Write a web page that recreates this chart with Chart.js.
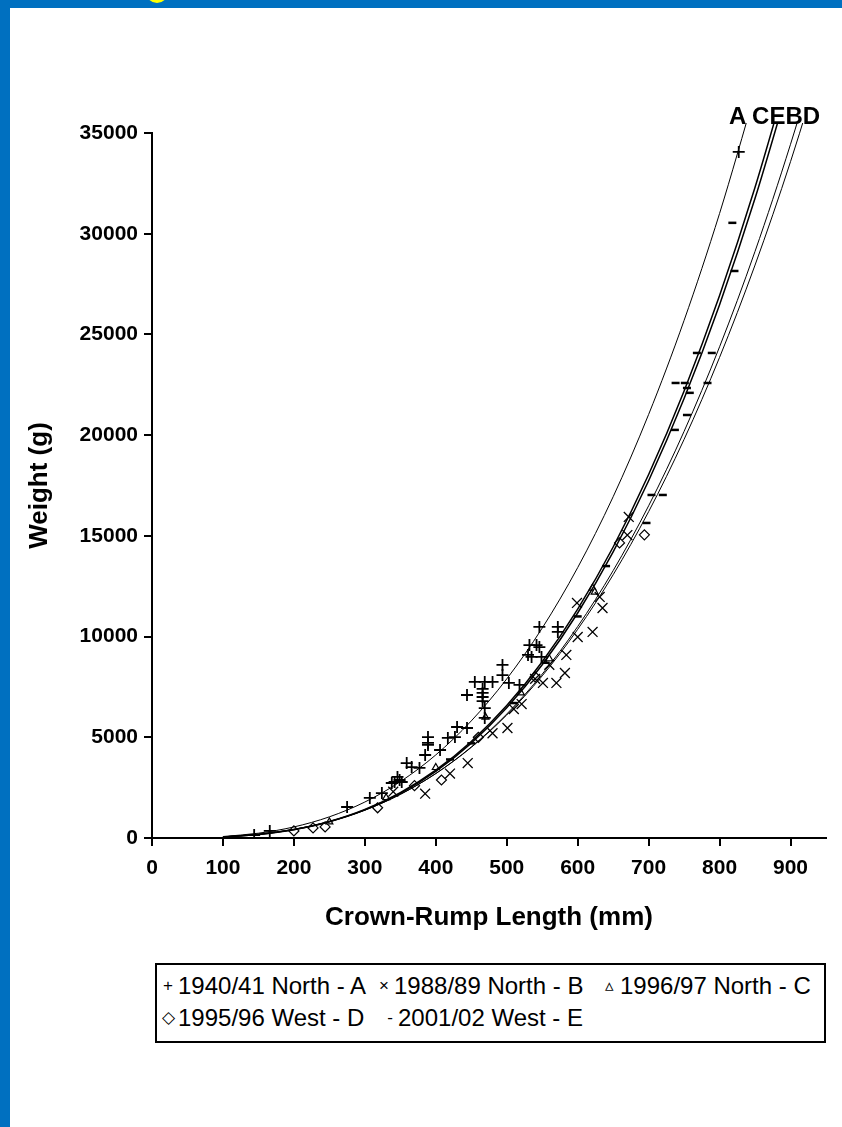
<!DOCTYPE html>
<html>
<head>
<meta charset="utf-8">
<script src="https://cdn.jsdelivr.net/npm/chart.js@4.4.0/dist/chart.umd.min.js"></script>
<style>
  body { margin: 0; width: 842px; height: 1127px; overflow: hidden; position: relative; background: #0070c0; font-family: 'Liberation Sans', Arial, sans-serif; }
  #panel { position: absolute; left: 10px; top: 8px; right: 0; bottom: 0; background: #fff; }
  #sun { position: absolute; left: 146px; top: -19px; width: 22px; height: 22px; border-radius: 50%; background: #ffff00; }
  #chart { position: absolute; left: 0; top: 0; }
  #curveLabel { position: absolute; left: 729px; top: 104px; font-weight: bold; font-size: 24px; line-height: 24px; white-space: nowrap; }
  #legend { position: absolute; left: 155px; top: 963px; width: 667px; height: 76px; border: 2px solid #000; background: #fff; }
  .sym { position: absolute; font-size: 17px; line-height: 28px; transform: translateX(-50%); }
  .txt { position: absolute; font-size: 24px; line-height: 28px; white-space: nowrap; }
</style>
</head>
<body>
<div id="panel"></div>
<div id="sun"></div>
<canvas id="chart" width="842" height="1127"></canvas>
<div id="curveLabel">A CEBD</div>
<div id="legend"></div>
<script>
// ejes
const xTicks = [0, 100, 200, 300, 400, 500, 600, 700, 800, 900];
const yTicks = [0, 5000, 10000, 15000, 20000, 25000, 30000, 35000];

// series (leyenda)
const seriesNames = ['1940/41 North - A', '1988/89 North - B', '1996/97 North - C', '1995/96 West - D', '2001/02 West - E'];
const legendSymbols = ['+', '\u00d7', '\u25b5', '\u25c7', '-'];

// puntos medidos: longitud (mm) y peso (g)
const aLen = [144, 166, 275, 307, 324, 338, 342, 346, 349, 352, 359, 366, 377, 385, 389, 389, 389, 406, 417, 427, 430, 444, 444, 455, 466, 466, 466, 466, 469, 469, 469, 480, 494, 494, 503, 518, 530, 532, 535, 542, 546, 546, 549, 572, 572, 827];
const aWt  = [150, 350, 1540, 1990, 2230, 2730, 2780, 3030, 2880, 2780, 3720, 3520, 3480, 4120, 4720, 5010, 4620, 4370, 4970, 5010, 5510, 5460, 7100, 7750, 7400, 7200, 7000, 6800, 7750, 6450, 5960, 7750, 8590, 8090, 7700, 7600, 9090, 9580, 8990, 9580, 10480, 9480, 8990, 10480, 10230, 34060];

const bLen = [340, 385, 420, 445, 480, 501, 510, 521, 540, 551, 560, 570, 582, 584, 599, 600, 621, 631, 635, 670, 672];
const bWt  = [2300, 2200, 3200, 3720, 5200, 5460, 6400, 6650, 7900, 7700, 8600, 7700, 8190, 9090, 11670, 9980, 10230, 11970, 11420, 15040, 15940];

const cLen = [250, 330, 400, 470, 520, 560, 621, 624];
const cWt  = [800, 2000, 3500, 6000, 7200, 8900, 12410, 12210];

const dLen = [200, 227, 244, 318, 370, 408, 460, 540, 659, 694];
const dWt  = [350, 500, 550, 1500, 2600, 2880, 5000, 8000, 14650, 15050];

const eLen = [420, 450, 510, 555, 600, 640, 697, 704, 720, 737, 738, 751, 754, 754, 758, 768, 783, 789, 818, 821];
const eWt  = [3900, 4700, 6700, 8700, 11000, 13500, 15640, 17030, 17030, 20260, 22590, 22590, 22340, 21000, 22100, 24080, 22590, 24080, 30540, 28150];

// curvas ajustadas
const curveLen = [100, 150, 200, 250, 300, 350, 400, 450, 500, 550, 600, 650, 700, 750, 800, 850, 900, 950];
const curveA = [73, 238, 549, 1051, 1786, 2797, 4125, 5812, 7898, 10422, 13424, 16943, 21028, 25697, 31008, 36993];
const curveB = [55, 181, 420, 807, 1378, 2164, 3201, 4519, 6154, 8136, 10498, 13275, 16493, 20188, 24387, 29127, 34441, 40351];
const curveC = [53, 178, 421, 822, 1420, 2255, 3367, 4794, 6575, 8752, 11363, 14447, 18043, 22193, 26934, 32305, 38348];
const curveD = [57, 186, 429, 818, 1388, 2170, 3197, 4498, 6106, 8050, 10360, 13069, 16202, 19791, 23862, 28445, 33577, 39274];
const curveE = [52, 174, 414, 808, 1396, 2217, 3310, 4712, 6464, 8604, 11170, 14201, 17737, 21816, 26476, 31756, 37697];

const toPts = (xs, ys) => ys.map((y, i) => ({ x: xs[i], y: y }));

function puntos(xs, ys, estilo, radio, ancho) {
    return {
        data: toPts(xs, ys),
        showLine: false,
        pointStyle: estilo,
        pointRadius: radio,
        pointBorderWidth: ancho,
        borderColor: '#000',
        backgroundColor: '#fff',
        pointHoverRadius: radio
    };
}

function curva(ys, ancho) {
    return {
        data: toPts(curveLen, ys),
        showLine: true,
        pointRadius: 0,
        borderColor: '#000',
        borderWidth: ancho,
        cubicInterpolationMode: 'monotone',
        fill: false,
        clip: { left: 0, top: 10, right: 0, bottom: 0 }
    };
}

// leyenda en HTML
const legendPos = [[168, 178, 0], [384, 394, 0], [609, 620, 0], [168, 178, 1], [390, 398, 1]];
const legend = document.getElementById('legend');
seriesNames.forEach((nombre, i) => {
    const [sx, tx, fila] = legendPos[i];
    const top = 7 + fila * 32;
    const s = document.createElement('span');
    s.className = 'sym';
    s.textContent = legendSymbols[i];
    s.style.left = (sx - 157) + 'px';
    s.style.top = top + 'px';
    const t = document.createElement('span');
    t.className = 'txt';
    t.textContent = nombre;
    t.style.left = (tx - 157) + 'px';
    t.style.top = top + 'px';
    legend.appendChild(s);
    legend.appendChild(t);
});

const tickFont = { family: "'Liberation Sans', Arial, sans-serif", size: 21, weight: 'bold' };
const titleFont = { family: "'Liberation Sans', Arial, sans-serif", size: 26, weight: 'bold' };

new Chart(document.getElementById('chart').getContext('2d'), {
    type: 'scatter',
    data: {
        datasets: [
            curva(curveA, 1),
            curva(curveB, 1),
            curva(curveD, 1),
            curva(curveC, 1.5),
            curva(curveE, 1.5),
            puntos(aLen, aWt, 'cross', 6, 1.8),
            puntos(bLen, bWt, 'crossRot', 7, 1.3),
            puntos(cLen, cWt, 'triangle', 4, 1.2),
            puntos(dLen, dWt, 'rectRot', 5, 1.2),
            puntos(eLen, eWt, 'line', 4, 2.5)
        ]
    },
    options: {
        responsive: false,
        animation: false,
        layout: { padding: { left: 0, top: 133, right: 16, bottom: 194 } },
        plugins: { legend: { display: false }, tooltip: { enabled: false } },
        scales: {
            x: {
                type: 'linear',
                min: 0,
                max: 950,
                afterBuildTicks: (s) => { s.ticks = xTicks.map(v => ({ value: v })); },
                afterFit: (s) => { s.height = 95; },
                ticks: { color: '#000', font: tickFont, padding: 10, maxRotation: 0 },
                grid: { drawOnChartArea: false, drawTicks: true, tickLength: 8, color: '#000', lineWidth: 2 },
                border: { display: true, color: '#000', width: 2 },
                title: { display: true, text: 'Crown-Rump Length (mm)', color: '#000', font: titleFont, padding: 0 }
            },
            y: {
                type: 'linear',
                min: 0,
                max: 35000,
                afterBuildTicks: (s) => { s.ticks = yTicks.map(v => ({ value: v })); },
                afterFit: (s) => { s.width = 152; },
                ticks: { color: '#000', font: tickFont, padding: 6, callback: (v) => String(v) },
                grid: { drawOnChartArea: false, drawTicks: true, tickLength: 8, color: '#000', lineWidth: 2 },
                border: { display: true, color: '#000', width: 2 },
                title: { display: true, text: 'Weight (g)', color: '#000', font: titleFont, padding: { top: 24, bottom: 0 } }
            }
        }
    }
});
</script>
</body>
</html>
